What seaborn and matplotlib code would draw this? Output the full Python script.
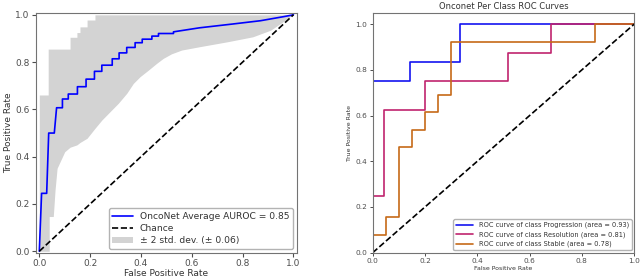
"""Recreate OncoNet ROC figure: mean ROC with std band + per class ROC curves."""
import numpy as np
import matplotlib
matplotlib.use("Agg")
import matplotlib.pyplot as plt
import seaborn as sns
from matplotlib.lines import Line2D
from matplotlib.patches import Patch

# mean ROC curve (left)
mean_fpr = [0, 0.009, 0.029, 0.037, 0.059, 0.068,
            0.091, 0.091, 0.114, 0.114, 0.150, 0.150, 0.184, 0.184, 0.217, 0.217,
            0.246, 0.246, 0.287, 0.287, 0.314, 0.314, 0.344, 0.344, 0.377, 0.377,
            0.405, 0.405, 0.443, 0.443, 0.469, 0.469, 0.528, 0.528,
            0.63, 0.76, 0.87, 0.96, 1.0]
mean_tpr = [0, 0.245, 0.245, 0.50, 0.50, 0.607,
            0.607, 0.644, 0.644, 0.665, 0.665, 0.696, 0.696, 0.728, 0.728, 0.761,
            0.761, 0.787, 0.787, 0.814, 0.814, 0.839, 0.839, 0.862, 0.862, 0.882,
            0.882, 0.897, 0.897, 0.910, 0.910, 0.921, 0.921, 0.928,
            0.945, 0.961, 0.975, 0.992, 1.0]

# +/- 2 std band
band_fpr = [0.0, 0.035, 0.035, 0.039, 0.039, 0.055, 0.062, 0.07, 0.10,
            0.121, 0.121, 0.148, 0.148, 0.16, 0.16, 0.188, 0.188, 0.219, 0.219,
            0.246, 0.278, 0.311, 0.344, 0.37, 0.396, 0.429, 0.462, 0.488, 0.52,
            0.56, 0.63, 0.74, 0.84, 0.91, 0.95, 0.99, 1.0]
band_upper = [0.661, 0.661, 0.855, 0.855, 0.855, 0.855, 0.855, 0.855, 0.855,
              0.855, 0.905, 0.905, 0.925, 0.925, 0.949, 0.949, 0.978, 0.978, 1.0,
              1.0, 1.0, 1.0, 1.0, 1.0, 1.0, 1.0, 1.0, 1.0, 1.0,
              1.0, 1.0, 1.0, 1.0, 1.0, 1.0, 1.0, 1.0]
band_lower = [0.0, 0.0, 0.0, 0.0, 0.147, 0.147, 0.259, 0.351, 0.421,
              0.44, 0.44, 0.45, 0.45, 0.46, 0.46, 0.478, 0.478, 0.52, 0.52,
              0.555, 0.59, 0.626, 0.668, 0.71, 0.738, 0.766, 0.795, 0.816, 0.835,
              0.851, 0.865, 0.886, 0.907, 0.935, 0.964, 0.995, 1.0]
mean_auc = 0.85
std_auc = 0.06

# per class ROC curves (right)
classes = ["Progression", "Resolution", "Stable"]
class_auc = [0.93, 0.81, 0.78]
class_fpr = [
    [0, 0, 0.143, 0.143, 0.333, 0.333, 1.0],
    [0, 0, 0.042, 0.042, 0.2, 0.2, 0.519, 0.519, 0.681, 0.681, 1.0],
    [0, 0, 0.05, 0.05, 0.1, 0.1, 0.15, 0.15, 0.2, 0.2, 0.25, 0.25, 0.3, 0.3, 0.85, 0.85, 1.0],
]
class_tpr = [
    [0, 0.75, 0.75, 0.833, 0.833, 1.0, 1.0],
    [0, 0.25, 0.25, 0.625, 0.625, 0.75, 0.75, 0.875, 0.875, 1.0, 1.0],
    [0, 0.077, 0.077, 0.154, 0.154, 0.462, 0.462, 0.538, 0.538, 0.615, 0.615,
     0.692, 0.692, 0.923, 0.923, 1.0, 1.0],
]
class_colors = ["#1414f0", "#c0246e", "#c66a18"]

sns.set_style("ticks", {"axes.edgecolor": "0.45", "xtick.color": "0.3", "ytick.color": "0.3",
                        "text.color": "0.2", "axes.labelcolor": "0.2"})

fig = plt.figure(figsize=(6.4, 2.79), dpi=100)
ax1 = fig.add_axes([0.05625, 0.0943, 0.4074, 0.8602])
ax2 = fig.add_axes([0.5823, 0.0943, 0.4087, 0.8602])

# left panel
ax1.fill_between(band_fpr, band_lower, band_upper, color="lightgrey", lw=0)
sns.lineplot(x=mean_fpr, y=mean_tpr, sort=False, estimator=None, ax=ax1,
             color="blue", lw=1.2)
ax1.plot([0, 1], [0, 1], ls="--", color="black", lw=1.2)
ax1.set_xlim(-0.013, 1.013)
ax1.set_ylim(-0.006, 1.009)
ax1.set_xlabel("False Positive Rate", fontsize=6.5, labelpad=1)
ax1.set_ylabel("True Positive Rate", fontsize=6.5, labelpad=2)
ax1.tick_params(labelsize=6.5, length=3, width=0.8, pad=1.5)
handles = [Line2D([], [], color="blue", lw=1.2),
           Line2D([], [], color="black", ls="--", lw=1.2),
           Patch(facecolor="lightgrey", edgecolor="none")]
labels = [f"OncoNet Average AUROC = {mean_auc:.2f}", "Chance",
          f"\u00b1 2 std. dev. (\u00b1 {std_auc:.2f})"]
ax1.legend(handles, labels, loc="lower right", fontsize=6.6, framealpha=1,
           edgecolor="0.7", borderaxespad=0.4, handlelength=2.2, labelspacing=0.35)

# right panel
for name, auc, fpr, tpr, c in zip(classes, class_auc, class_fpr, class_tpr, class_colors):
    sns.lineplot(x=fpr, y=tpr, sort=False, estimator=None, ax=ax2, color=c, lw=1.2,
                 label=f"ROC curve of class {name} (area = {auc:.2f})")
ax2.plot([0, 1], [0, 1], ls="--", color="black", lw=1.2)
ax2.set_xlim(0, 1)
ax2.set_ylim(0, 1.05)
ax2.set_title("Onconet Per Class ROC Curves", fontsize=6, pad=3)
ax2.set_xlabel("False Positive Rate", fontsize=4.5, labelpad=1.5)
ax2.set_ylabel("True Positive Rate", fontsize=4.5, labelpad=2)
ax2.tick_params(labelsize=5.3, length=2.5, width=0.7, pad=1.5)
ax2.legend(loc="lower right", fontsize=4.8, framealpha=1, edgecolor="0.7",
           borderaxespad=0.4, handlelength=2.6, labelspacing=0.45)

fig.savefig("out.png", dpi=100)
